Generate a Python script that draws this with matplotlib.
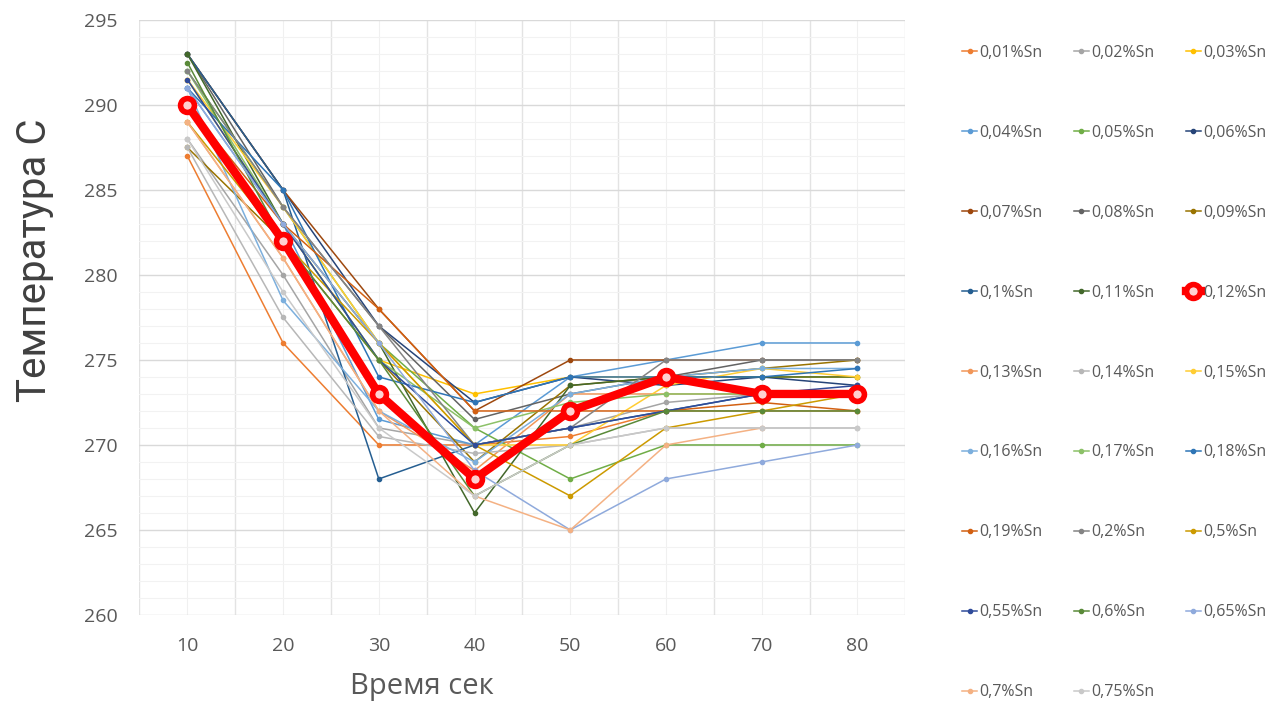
import numpy as np
import matplotlib.pyplot as plt
from matplotlib.ticker import MultipleLocator

nan = np.nan

times = [10, 20, 30, 40, 50, 60, 70, 80]

labels = [
    "0,01%Sn", "0,02%Sn", "0,03%Sn", "0,04%Sn", "0,05%Sn", "0,06%Sn",
    "0,07%Sn", "0,08%Sn", "0,09%Sn", "0,1%Sn", "0,11%Sn", "0,12%Sn",
    "0,13%Sn", "0,14%Sn", "0,15%Sn", "0,16%Sn", "0,17%Sn", "0,18%Sn",
    "0,19%Sn", "0,2%Sn", "0,5%Sn", "0,55%Sn", "0,6%Sn", "0,65%Sn",
    "0,7%Sn", "0,75%Sn",
]

colors = [
    "#ED7D31", "#A5A5A5", "#FFC000", "#5B9BD5", "#70AD47", "#264478",
    "#9E480E", "#636363", "#997300", "#255E91", "#43682B", "#FF0000",
    "#F1975A", "#B7B7B7", "#FFCD33", "#7CAFDD", "#8CC168", "#2E75B6",
    "#D26012", "#848484", "#CC9A00", "#2F4B9A", "#5A8A39", "#8FAADC",
    "#F4B183", "#C9C9C9",
]

# temperature readings, one list per alloy
sn_001 = [287, 276, 270, 270, 270.5, 272, 272, 272]
sn_002 = [288, 280, 271, 270, 271, 272.5, 273, 273]
sn_003 = [291.5, 283, 275, 273, 274, 274, 274, 274]
sn_004 = [291, 283, 271.5, 270, 274, 275, 276, 276]
sn_005 = [292, 284, 276, 271, 268, 270, 270, 270]
sn_006 = [293, 285, 277, 272.5, 274, 273.5, 274, 273.5]
sn_007 = [293, 285, 278, 272, 275, 275, 275, 275]
sn_008 = [293, 284, 277, 271.5, 273, 274, 275, 275]
sn_009 = [287.5, 282, 275, 269, 273.5, 274, 274.5, 275]
sn_010 = [293, 285, 268, 270, 271, 272, 273, 273]
sn_011 = [293, 283, 276, 266, 273.5, 274, 274, 274]
sn_012 = [290, 282, 273, 268, 272, 274, 273, 273]
sn_013 = [289, 281, 272, 268.5, 273, 273, 273, 273]
sn_014 = [287.5, 277.5, 270.5, 269.5, 270, 271, 271, 271]
sn_015 = [291.5, 284, 276, 270, 270, 273.5, 274.5, 274]
sn_016 = [291, 278.5, 272, 269, 273, 274, 274.5, 274.5]
sn_017 = [292, 283, 275, 271, 272.5, 273, 273, 273]
sn_018 = [291, 285, 274, 272.5, 274, 274, 274, 274.5]
sn_019 = [290, 283, 278, 272, 272, 272, 272.5, 272]
sn_020 = [292, 284, 277, 270, 271, 275, 275, 275]
sn_050 = [289, 282, 276, 270, 267, 271, 272, 273]
sn_055 = [291.5, 283, 275, 270, 271, 272, 273, 273.5]
sn_060 = [292.5, 282, 275, 267, 270, 272, 272, 272]
sn_065 = [291, 283, 276, 268.5, 265, 268, 269, 270]
sn_070 = [289, 281, 272, 267, 265, 270, 271, nan]
sn_075 = [288, 279, 271, 267, 270, 271, 271, 271]

series = [
    sn_001, sn_002, sn_003, sn_004, sn_005, sn_006, sn_007, sn_008, sn_009,
    sn_010, sn_011, sn_012, sn_013, sn_014, sn_015, sn_016, sn_017, sn_018,
    sn_019, sn_020, sn_050, sn_055, sn_060, sn_065, sn_070, sn_075,
]

fig = plt.figure(figsize=(12.68, 7.02), dpi=100)
ax = fig.add_axes([0.110, 0.124, 0.604, 0.8475])

handles = []
for name, vals, col in zip(labels, series, colors):
    if name == "0,12%Sn":
        continue
    h, = ax.plot(times, vals, color=col, lw=1.1, marker="o", ms=3,
                 label=name, zorder=2)
    handles.append(h)

# highlighted alloy drawn on top
red_idx = labels.index("0,12%Sn")
h_red, = ax.plot(times, series[red_idx], color="#FF0000", lw=6, marker="o",
                 ms=10, mew=4, mec="#FF0000", mfc="#FFD0D0",
                 label=labels[red_idx], zorder=5)
handles.insert(red_idx, h_red)

ax.set_xlim(5, 85)
ax.set_ylim(260, 295)
ax.set_xticks(times)
ax.yaxis.set_major_locator(MultipleLocator(5))
ax.yaxis.set_minor_locator(MultipleLocator(1))
ax.set_xticks(np.arange(5, 90, 10), minor=True)

ax.grid(axis="y", which="major", color="#D9D9D9", lw=1.0, zorder=0)
ax.grid(axis="y", which="minor", color="#F2F2F2", lw=0.8, zorder=0)
ax.grid(axis="x", which="minor", color="#E3E3E3", lw=1.0, zorder=0)
ax.grid(axis="x", which="major", color="#F0F0F0", lw=0.8, zorder=0)
ax.set_axisbelow(True)

for sp in ax.spines.values():
    sp.set_visible(False)
ax.tick_params(which="both", length=0)
ax.tick_params(axis="y", labelsize=14, labelcolor="#595959", pad=15.5)
ax.tick_params(axis="x", labelsize=14, labelcolor="#595959", pad=16)
for t in ax.get_yticklabels() + ax.get_xticklabels():
    t.set_family(["Open Sans", "DejaVu Sans"])

ax.set_xlabel("Время сек", fontsize=21, color="#595959",
              family=["Open Sans", "DejaVu Sans"])
ax.xaxis.set_label_coords(0.369, -0.096)
ax.set_ylabel("Температура С", fontsize=29, color="#404040",
              family=["Roboto", "DejaVu Sans"])
ax.yaxis.set_label_coords(-0.112, 0.597)

# row-major legend: reorder so column-major filling reads across rows
order = [i for c in range(3) for i in range(c, len(handles), 3)]
fig.legend([handles[i] for i in order], [labels[i] for i in order],
           loc="upper left", bbox_to_anchor=(0.754, 0.945), ncol=3,
           frameon=False, handlelength=0.9, handletextpad=0.15,
           columnspacing=2.0, labelspacing=4.0, borderaxespad=0,
           prop={"family": ["Open Sans", "DejaVu Sans"], "size": 11.5},
           labelcolor="#595959")

fig.savefig("out.png", dpi=100)
